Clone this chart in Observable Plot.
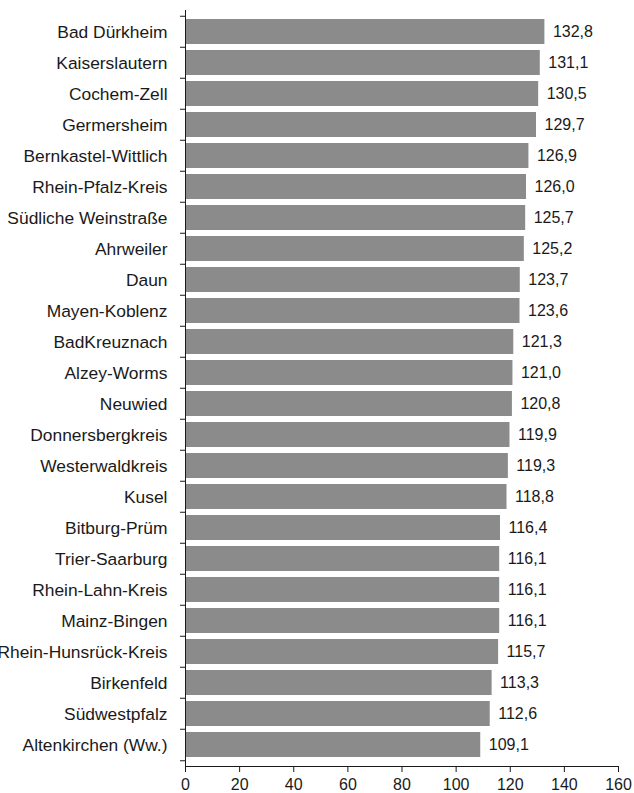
<!DOCTYPE html>
<html><head><meta charset="utf-8">
<script src="https://cdn.jsdelivr.net/npm/d3@7"></script>
<script src="https://cdn.jsdelivr.net/npm/@observablehq/plot@0.6"></script>
<style>body{margin:0;background:#fff;} svg{display:block;}</style>
</head><body><div id="chart"></div>
<script>
const districts = ["Bad Dürkheim","Kaiserslautern","Cochem-Zell","Germersheim","Bernkastel-Wittlich","Rhein-Pfalz-Kreis","Südliche Weinstraße","Ahrweiler","Daun","Mayen-Koblenz","BadKreuznach","Alzey-Worms","Neuwied","Donnersbergkreis","Westerwaldkreis","Kusel","Bitburg-Prüm","Trier-Saarburg","Rhein-Lahn-Kreis","Mainz-Bingen","Rhein-Hunsrück-Kreis","Birkenfeld","Südwestpfalz","Altenkirchen (Ww.)"];
const values = [132.8,131.1,130.5,129.7,126.9,126.0,125.7,125.2,123.7,123.6,121.3,121.0,120.8,119.9,119.3,118.8,116.4,116.1,116.1,116.1,115.7,113.3,112.6,109.1];
const xTicks = [0,20,40,60,80,100,120,140,160];

const data = districts.map((d,i)=>({name:d, value:values[i]}));
const W = 634, H = 793, mt = 10, mb = 27, ml = 185, mr = 16;
const step = (H - mt - mb) / districts.length;
const fmt = v => v.toFixed(1).replace(".", ",");
const font = "'Liberation Sans', Arial, Helvetica, sans-serif";

const chart = Plot.plot({
  width: W, height: H,
  marginTop: mt, marginBottom: mb, marginLeft: ml, marginRight: mr,
  style: {fontFamily: font, fontSize: "16px", color: "#1a1a1a", background: "#fff"},
  x: {domain: [0,160], axis: null},
  y: {domain: districts, paddingInner: 0.2, paddingOuter: 0.1, axis: null},
  marks: [
    Plot.barX(data, {y: "name", x: "value", fill: "#8b8b8c"}),
    Plot.text(data, {y: "name", x: "value", text: d => fmt(d.value), textAnchor: "start", dx: 8, fontSize: 16, fill: "#1a1a1a"}),
    Plot.axisY({tickSize: 0, tickPadding: 18, fontSize: 17.4, label: null}),
    Plot.axisX({ticks: xTicks, tickSize: 6, tickPadding: 6, fontSize: 16, label: null, tickFormat: d => d}),
    Plot.frame({anchor: "left", stroke: "#1a1a1a"}),
    Plot.frame({anchor: "bottom", stroke: "#1a1a1a"}),
    Plot.ruleY(districts, {y: d => d, x1: -5/2.7, x2: 0, dy: -step/2, stroke: "#1a1a1a"}),
    Plot.ruleY(districts.slice(-1), {y: d => d, x1: -5/2.7, x2: 0, dy: step/2, stroke: "#1a1a1a"})
  ]
});
document.getElementById("chart").appendChild(chart);
</script></body></html>
